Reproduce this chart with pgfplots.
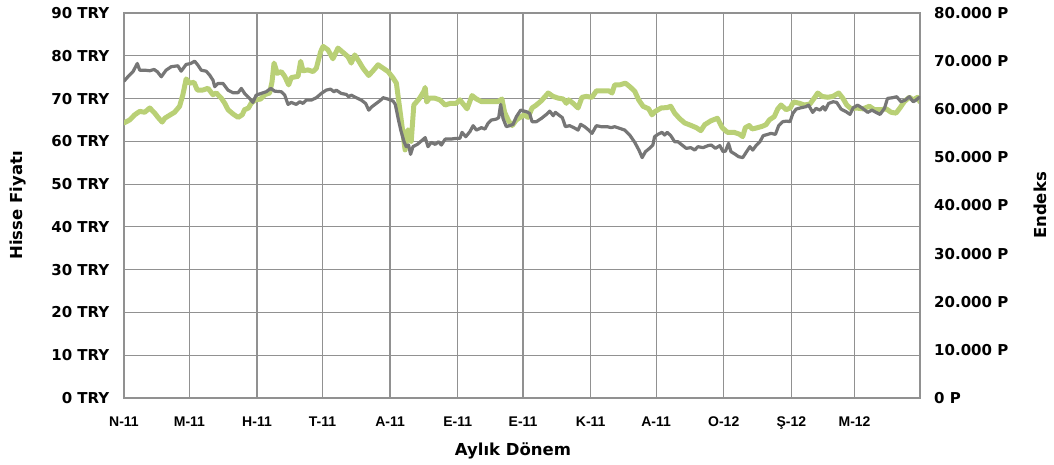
\documentclass[border=0pt]{standalone}
\usepackage{fontspec}
\setmainfont{DejaVu Sans}
\newfontfamily\arialf{Liberation Sans}
\usepackage{pgfplots}
\usepackage{pgfplotstable}
\pgfplotsset{compat=1.18}
\definecolor{gridc}{RGB}{145,145,145}
\definecolor{greyline}{RGB}{118,118,118}
\definecolor{greenline}{RGB}{185,208,118}

\pgfplotstableread{
day price
0 64.3
2.6 65.0
4.9 66.2
7.2 67.0
9.5 66.8
11.8 67.8
14.1 66.6
15.6 65.6
17.5 64.5
18.7 65.4
20.9 66.1
23.2 66.8
25.5 68.2
27.0 70.9
28.5 74.6
30.1 73.6
32.1 73.8
33.6 72.0
36.2 72.0
38.5 72.4
40.8 70.9
42.3 71.3
44.6 70.1
46.2 68.9
47.7 67.4
50.0 66.4
52.3 65.6
54.2 66.2
55.3 67.4
57.1 67.8
58.3 68.9
60.2 69.7
62.7 69.9
64.5 70.9
66.8 71.3
67.9 74.0
68.8 78.3
70.3 75.9
72.1 76.3
73.7 75.2
75.5 73.2
76.7 74.9
79.8 75.2
81.0 78.7
82.1 76.5
84.4 76.7
86.7 76.3
88.2 77.1
89.0 78.7
90.2 81.0
91.3 82.2
93.5 81.4
95.8 79.3
98.1 81.8
100.4 80.8
102.7 79.8
104.2 78.3
105.8 80.2
107.6 78.8
109.6 77.1
112.2 75.4
114.2 76.5
116.5 77.9
118.8 77.1
121.1 76.3
123.4 74.8
124.9 73.6
126.1 68.9
127.5 63.5
128.9 58.0
130.2 62.7
131.7 60.0
132.9 68.5
135.6 70.1
137.5 71.7
138.1 72.6
138.8 69.2
140.1 70.1
142.4 70.1
144.8 69.7
147.3 68.5
149.8 68.9
152.4 68.9
154.0 69.7
155.9 68.5
157.3 67.6
159.6 70.7
161.6 69.9
163.9 69.3
168.4 69.3
171.5 69.3
173.3 69.9
174.5 66.8
176.4 64.7
178.0 63.7
179.9 65.0
182.2 65.8
183.4 66.2
185.3 65.6
187.1 67.8
189.1 68.5
191.4 69.5
194.5 71.3
196.8 70.5
199.1 70.1
201.4 69.9
202.8 68.9
203.9 69.7
205.9 68.9
208.2 67.8
210.0 70.3
212.0 70.5
214.6 70.3
216.6 71.8
219.6 71.8
222.3 71.8
223.8 71.3
225.0 73.2
227.3 73.2
229.9 73.6
231.9 72.8
234.2 71.7
236.0 69.7
238.0 68.2
240.6 67.6
242.1 66.2
243.6 67.0
246.3 67.8
249.1 67.9
250.7 68.2
252.5 66.6
254.8 65.3
257.1 64.3
260.1 63.7
262.4 63.2
264.5 62.5
266.3 63.9
269.1 64.8
272.1 65.4
274.3 63.2
276.7 62.1
279.8 62.1
282.1 61.7
283.7 61.1
284.9 63.2
286.7 63.7
288.0 62.9
289.8 63.1
292.6 63.5
294.4 63.9
295.9 65.0
298.2 65.8
299.8 67.6
301.3 68.5
303.6 67.4
305.5 67.8
307.0 69.2
309.7 68.9
312.0 68.5
314.5 68.7
316.5 70.1
318.1 71.3
320.1 70.5
322.7 70.3
325.0 70.5
327.7 71.3
329.6 70.1
331.4 68.5
333.4 67.6
335.7 67.8
338.8 67.6
341.8 68.2
344.1 67.4
347.2 67.4
349.5 67.6
351.7 66.8
354.0 66.6
355.8 67.8
357.8 69.3
360.1 70.3
361.9 69.7
363.9 70.3
365.0 69.2
}\hisse

\pgfplotstableread{
day index
0 65840
1.8 66750
4.1 67790
6.1 69510
7.2 68120
9.5 68120
11.8 68000
13.8 68270
15.3 67790
17.1 66750
19.3 68120
21.6 68830
24.7 69030
26.2 67910
28.5 69310
30.6 69510
32.4 69990
33.9 69160
35.4 68120
37.7 67910
39.3 67080
40.8 66050
41.6 64680
43.1 65360
45.4 65360
47.7 63970
50.0 63430
52.3 63430
53.8 64330
55.3 63290
57.6 62250
59.1 61420
60.6 62930
62.9 63290
65.2 63640
67.3 64330
69.1 63760
72.1 63640
73.7 62930
75.2 61010
76.7 61420
79.0 61010
80.6 61560
82.1 61210
83.6 61900
85.9 61900
88.2 62400
90.5 63290
92.7 63970
94.7 64180
96.3 63640
97.3 63970
99.6 63290
101.9 63080
103.0 62600
104.2 62930
106.5 62400
108.8 61900
110.8 61210
112.2 59820
113.7 60530
115.7 61210
117.7 61900
118.8 62400
121.1 62100
123.4 61690
124.4 61010
125.7 58100
126.9 55670
128.4 53260
129.4 52230
130.5 52560
131.4 50630
132.5 52230
134.5 52700
136.3 53390
138.1 54100
139.4 52230
140.9 53120
142.7 52700
144.3 53260
145.5 52560
147.3 53800
149.8 53800
152.4 53950
154.0 53950
155.0 55200
156.7 54300
158.6 55340
160.1 56590
161.6 55670
163.9 56170
165.5 55880
166.9 57060
168.4 57750
170.7 57950
171.8 58250
172.7 61010
173.8 58100
175.3 56380
176.8 56590
178.4 56860
179.9 58450
181.9 59820
184.5 59490
186.0 59140
187.1 57420
189.1 57420
191.4 58100
193.7 58930
195.2 59610
196.8 58660
197.8 59350
199.8 58660
201.0 58250
202.4 56380
204.3 56590
206.3 56170
208.2 55670
209.4 56860
211.2 56380
213.1 55670
214.6 54990
216.6 56590
218.8 56380
221.6 56380
223.4 56170
225.0 56380
227.3 56030
229.6 55670
231.9 54640
234.2 53120
236.1 51520
237.6 49950
239.1 51190
241.0 51880
242.5 52560
243.3 54300
244.8 54780
246.7 55200
247.9 54640
249.1 55200
250.7 54510
252.5 53260
254.0 53260
255.9 52560
257.8 51880
259.9 52020
261.7 51520
263.2 52230
265.5 52020
267.8 52440
269.3 52560
271.2 51880
273.2 52440
274.7 51190
275.8 51310
277.2 52910
278.3 51190
280.3 50630
281.8 50150
283.7 49950
285.5 51190
287.0 52230
288.3 51520
289.8 52440
291.6 53260
293.1 54510
295.2 54780
296.7 54990
298.7 54780
300.2 56590
302.1 57420
303.9 57540
305.4 57420
306.7 59140
308.2 60030
310.5 60320
312.7 60530
313.9 60860
315.8 59350
317.3 60180
319.1 59820
320.6 60530
321.5 59820
323.1 61210
325.2 61560
326.8 61420
328.8 60030
331.1 59490
332.9 58930
334.4 60320
336.4 60860
338.7 60180
341.0 59350
343.0 59820
344.8 59350
346.7 58930
348.7 60180
350.1 62250
352.4 62400
354.3 62600
356.3 61560
358.2 61900
360.1 62600
361.9 61560
363.2 61900
364.4 62400
365.0 62400
}\endeks

\begin{document}
\begin{tikzpicture}
\useasboundingbox (0,0) rectangle (1054pt,464pt);
\begin{axis}[
  scale only axis, width=796pt, height=385pt,
  at={(124pt,66pt)}, anchor=south west,
  xmin=0, xmax=365, ymin=0, ymax=90,
  scaled x ticks=false, scaled y ticks=false,
  xtick={0,30,61,91,122,153,183,214,244,275,306,335},
  xticklabels={N-11,M-11,H-11,T-11,A-11,E-11,E-11,K-11,A-11,O-12,Ş-12,M-12},
  ytick={0,10,20,30,40,50,60,70,80,90},
  yticklabels={0 TRY,10 TRY,20 TRY,30 TRY,40 TRY,50 TRY,60 TRY,70 TRY,80 TRY,90 TRY},
  grid=major,
  major grid style={draw=gridc, line width=1.2pt},
  axis line style={draw=gridc, line width=1.2pt},
  major tick length=0pt,
  xticklabel style={font=\arialf\bfseries\fontsize{14}{16}\selectfont, anchor=base, inner sep=0pt, yshift=-28.5pt},
  yticklabel style={font=\bfseries\fontsize{15}{18}\selectfont, anchor=east, inner sep=0pt, xshift=-14.5pt},
  xlabel={Aylık Dönem},
  ylabel={Hisse Fiyatı},
  every axis x label/.style={at={(axis description cs:0.4887,-0.137)}, anchor=center, font=\bfseries\fontsize{16.5}{18}\selectfont},
  every axis y label/.style={at={(axis description cs:-0.1332,0.5)}, anchor=center, rotate=90, font=\bfseries\fontsize{16.5}{18}\selectfont},
]
\addplot[color=greenline, line width=5pt, line join=round, line cap=round] table[x=day, y=price] {\hisse};
\end{axis}
\begin{axis}[
  scale only axis, width=796pt, height=385pt,
  at={(124pt,66pt)}, anchor=south west,
  xmin=0, xmax=365, ymin=0, ymax=80000,
  scaled x ticks=false, scaled y ticks=false,
  axis x line=none, axis y line*=right,
  axis line style={draw=gridc, line width=1.2pt},
  ytick={0,10000,20000,30000,40000,50000,60000,70000,80000},
  yticklabels={0 P,10.000 P,20.000 P,30.000 P,40.000 P,50.000 P,60.000 P,70.000 P,80.000 P},
  major tick length=0pt,
  yticklabel style={font=\bfseries\fontsize{15}{18}\selectfont, anchor=west, inner sep=0pt, xshift=14pt},
  ylabel={Endeks},
  every axis y label/.style={at={(axis description cs:1.1508,0.5)}, anchor=center, rotate=90, font=\bfseries\fontsize{16.5}{18}\selectfont},
]
\addplot[color=greyline, line width=3.2pt, line join=round, line cap=round] table[x=day, y=index] {\endeks};
\end{axis}
\end{tikzpicture}
\end{document}
